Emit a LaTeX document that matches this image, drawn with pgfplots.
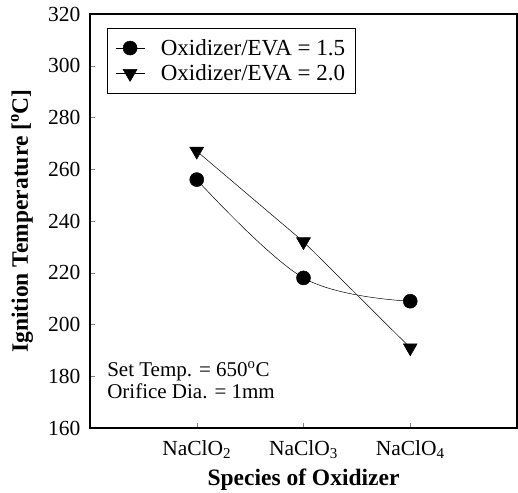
\documentclass[border=0pt]{standalone}
\usepackage{pgfplots}
\pgfplotsset{compat=1.18}
\usepackage{fontspec}
\setmainfont{Liberation Serif}
\begin{document}
\begin{tikzpicture}
\begin{axis}[
  scale only axis,
  width=427bp, height=414bp,
  xmin=0, xmax=4, ymin=160, ymax=320,
  xtick={1,2,3},
  xticklabels={NaClO\textsubscript{2},NaClO\textsubscript{3},NaClO\textsubscript{4}},
  ytick={160,180,...,320},
  tick align=inside,
  xtick pos=bottom, ytick pos=left,
  major tick length=5bp,
  axis line style={line width=1.1bp},
  /pgf/number format/assume math mode=true,
  tick label style={font=\fontsize{21.5bp}{22bp}\selectfont},
  yticklabel style={xshift=-6bp},
  xticklabel style={yshift=-9bp},
  every axis y label/.style={at={(axis description cs:-0.159,0.5)}, rotate=90, anchor=center},
  every axis x label/.style={at={(axis description cs:0.5,0)}, anchor=center, yshift=-52bp},
  label style={font=\fontsize{23.5bp}{24bp}\selectfont\bfseries},
  xlabel={Species of Oxidizer},
  ylabel={Ignition Temperature [\textsuperscript{o}C]},
  legend style={at={(rel axis cs:0.04,0.966)}, anchor=north west, draw=black, line width=0.5bp,
    font=\fontsize{23bp}{24bp}\selectfont, cells={anchor=west}, inner xsep=8bp, inner ysep=9bp, row sep=4bp,
    /tikz/every odd column/.append style={column sep=14bp}},
  legend image code/.code={\draw[mark repeat=2,mark phase=2,#1] plot coordinates {(0bp,0bp)(14.5bp,0bp)(29bp,0bp)};},
  clip=false,
]
\addplot[black, line width=0.5bp, smooth, tension=0.6, mark=*, mark size=7bp, mark options={solid}] coordinates {(1,256) (2,218) (3,209)};
\addlegendentry{Oxidizer/EVA = 1.5}
\addplot[black, line width=0.5bp, mark=triangle*, mark size=8bp, mark options={solid, rotate=180}] coordinates {(1,267) (2,232) (3,191)};
\addlegendentry{Oxidizer/EVA = 2.0}
\node[anchor=north west, align=left, font=\fontsize{21bp}{22bp}\selectfont, inner sep=0pt] at (rel axis cs:0.04,0.16) {Set Temp. = 650\textsuperscript{o}C\\Orifice Dia. = 1mm};
\end{axis}
\pgfresetboundingbox
\path[use as bounding box] (-90bp,-65bp) rectangle (428bp,428bp);
\end{tikzpicture}
\end{document}
